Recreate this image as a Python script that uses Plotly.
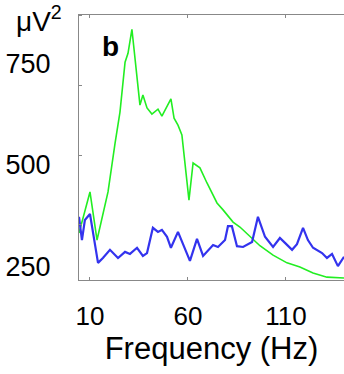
import plotly.graph_objects as go

green_f = [4.4, 10.0, 13.6, 19.2, 22.8, 25.3, 27.9, 29.4, 31.4, 35.5, 37.0, 39.1, 41.6, 44.7, 46.7,
           51.3, 52.9, 54.9, 56.9, 60.5, 62.6, 66.1, 69.7, 74.8, 77.9, 83.0, 86.5, 91.6, 96.7,
           103.4, 110.5, 117.1, 123.8, 130.9, 139.6]
green_v = [333, 434, 316, 434, 554, 630, 752, 774, 833, 647, 672, 640, 625, 637, 620,
           662, 615, 598, 574, 414, 505, 493, 456, 407, 390, 360, 348, 324, 302,
           279, 260, 250, 235, 225, 223]

blue_f = [4.4, 5.9, 7.4, 10.0, 14.1, 16.6, 20.2, 24.3, 27.9, 30.4, 34.0, 37.0, 39.1, 42.1, 44.7,
          46.7, 49.3, 51.3, 54.9, 58.5, 61.0, 64.6, 67.7, 72.8, 75.3, 78.9, 80.4, 82.4, 85.0,
          88.1, 92.7, 95.7, 99.3, 103.4, 106.9, 109.5, 113.1, 115.6, 118.7, 121.2, 123.8,
          128.4, 130.9, 133.5, 136.5, 139.6]
blue_v = [373, 316, 365, 380, 260, 272, 292, 272, 287, 282, 297, 277, 284, 346, 336,
          341, 324, 297, 336, 292, 265, 319, 277, 304, 299, 316, 350, 350, 301,
          299, 311, 373, 324, 299, 321, 309, 292, 306, 346, 316, 297,
          284, 272, 282, 252, 275]

x_ticks = [10, 60, 110]
y_ticks = [250, 500, 750]

FONT = "Liberation Sans, Arial, sans-serif"

fig = go.Figure()
fig.add_trace(go.Scatter(x=green_f, y=green_v, mode="lines",
                         line=dict(color="#22ee22", width=1.6), showlegend=False))
fig.add_trace(go.Scatter(x=blue_f, y=blue_v, mode="lines",
                         line=dict(color="#3333ee", width=2.2), showlegend=False))

fig.update_layout(
    width=344, height=374,
    margin=dict(l=79, r=0, t=15, b=94),
    paper_bgcolor="white", plot_bgcolor="white",
    font=dict(family=FONT, color="black"),
    xaxis=dict(range=[4.4, 139.6], tickvals=x_ticks, ticktext=[str(v) for v in x_ticks],
               ticks="inside", ticklen=3, tickcolor="#888888",
               showline=True, linecolor="#888888", linewidth=1, mirror="ticks",
               showgrid=False, zeroline=False, tickfont=dict(size=26),
               ticklabelstandoff=13,
               title=dict(text="Frequency (Hz)", font=dict(size=31), standoff=1)),
    yaxis=dict(range=[218, 868], tickvals=y_ticks, ticktext=[str(v) for v in y_ticks],
               ticks="", showline=True, linecolor="#888888", linewidth=1, mirror=True,
               showgrid=False, zeroline=False, tickfont=dict(size=27),
               ticklabelstandoff=22,
               minor=dict(ticks="inside", ticklen=3, tick0=353, dtick=171.6,
                          tickcolor="#888888", showgrid=False)),
    annotations=[
        dict(text="μV<sup>2</sup>", xref="paper", yref="paper", x=-0.15, y=0.985,
             xanchor="center", yanchor="middle", showarrow=False, font=dict(size=28)),
        dict(text="<b>b</b>", xref="paper", yref="paper", x=0.12, y=0.88,
             xanchor="center", yanchor="middle", showarrow=False, font=dict(size=28)),
    ],
)

fig.write_html("out.html")
